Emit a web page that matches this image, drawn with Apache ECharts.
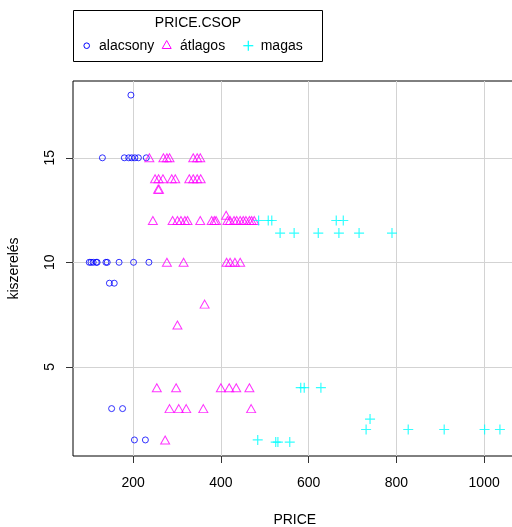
<!DOCTYPE html>
<html><head><meta charset="utf-8">
<script src="https://cdn.jsdelivr.net/npm/echarts@6/dist/echarts.min.js"></script>
<style>html,body{margin:0;padding:0;background:#fff}#c{width:512px;height:527px}</style>
</head><body><div id="c"></div>
<script>
// ---- data ----
const seriesNames = ['alacsony', 'átlagos', 'magas'];
const legendTitle = 'PRICE.CSOP';
const alacsonyX = [195, 130,180,190,197,204,212,230, 100,104,109,116,118,138,141,168,201,236, 146,157, 151,176, 203,228];
const alacsonyY = [18, 15,15,15,15,15,15,15, 10,10,10,10,10,10,10,10,10,10, 9,9, 3,3, 1.5,1.5];
const atlagosX = [237,269,277,283,337,346,353, 250,258,268,288,296,328,337,346,354, 257,259,
  245,290,301,309,318,324,353,379,385,389,415,421,430,436,444,451,457,465,470,476, 412,
  277,315,413,421,432,444, 363, 301, 254,298,400,419,435,465, 283,304,321,360,469, 273];
const atlagosY = [15,15,15,15,15,15,15, 14,14,14,14,14,14,14,14,14, 13.5,13.5,
  12,12,12,12,12,12,12,12,12,12,12,12,12,12,12,12,12,12,12,12, 12.25,
  10,10,10,10,10,10, 8, 7, 4,4,4,4,4,4, 3,3,3,3,3, 1.5];
const magasX = [486,508,516,663,679, 535,567,622,669,715,790, 582,590,628, 740, 731,827,909,1001,1036, 484,525,530,557];
const magasY = [12,12,12,12,12, 11.4,11.4,11.4,11.4,11.4,11.4, 4,4,4, 2.5, 2,2,2,2,2, 1.5,1.4,1.4,1.4];
const xTicks = [200, 400, 600, 800, 1000];
const yTicks = [5, 10, 15];
const xName = 'PRICE';
const yName = 'kiszerelés';

const zip = (xs, ys) => xs.map((x, i) => [x, ys[i]]);
const FONT = 'Liberation Sans';
const BLUE = '#0000FF', MAG = '#FF00FF', CYAN = '#00FFFF';

const chart = echarts.init(document.getElementById('c'), null, {renderer: 'canvas'});
const axisCommon = {
  type: 'value',
  axisLine: {show: false},
  axisTick: {show: true, length: 7, lineStyle: {color: '#333', width: 1}},
  splitLine: {show: true, lineStyle: {color: '#D3D3D3', width: 1}},
  nameLocation: 'middle',
  nameTextStyle: {fontFamily: FONT, fontSize: 14, color: '#000'}
};
const option = {
  animation: false,
  backgroundColor: '#fff',
  grid: {left: 73, top: 81, width: 443.6, height: 375, outerBoundsMode: 'none', containLabel: false,
         show: true, borderColor: '#000', borderWidth: 1, backgroundColor: 'transparent'},
  xAxis: Object.assign({}, axisCommon, {
    min: 63, max: 1074,
    name: xName, nameGap: 57,
    axisTick: Object.assign({}, axisCommon.axisTick, {customValues: xTicks}),
    axisLabel: {customValues: xTicks, formatter: v => String(v), margin: 20, fontFamily: FONT, fontSize: 14, color: '#000'}
  }),
  yAxis: Object.assign({}, axisCommon, {
    min: 0.732, max: 18.675,
    name: yName, nameGap: 52,
    axisTick: Object.assign({}, axisCommon.axisTick, {customValues: yTicks}),
    axisLabel: {customValues: yTicks, formatter: v => String(v), rotate: 90, margin: 16, fontFamily: FONT, fontSize: 14, color: '#000'}
  }),
  series: [
    {name: seriesNames[0], type: 'scatter', data: zip(alacsonyX, alacsonyY), symbol: 'circle', symbolSize: 6,
     itemStyle: {color: 'rgba(0,0,0,0)', borderColor: BLUE, borderWidth: 1}, emphasis: {disabled: true}},
    {name: seriesNames[1], type: 'scatter', data: zip(atlagosX, atlagosY), symbol: 'triangle', symbolSize: [9, 8],
     itemStyle: {color: 'rgba(0,0,0,0)', borderColor: MAG, borderWidth: 1}, emphasis: {disabled: true}},
    {name: seriesNames[2], type: 'scatter', data: zip(magasX, magasY), symbol: 'path://M5,0L5,10M0,5L10,5', symbolSize: 10,
     itemStyle: {color: 'rgba(0,0,0,0)', borderColor: CYAN, borderWidth: 1.2}, emphasis: {disabled: true}}
  ],
  graphic: [
    {type: 'rect', shape: {x: 73.5, y: 10.5, width: 249, height: 51}, style: {fill: '#fff', stroke: '#000', lineWidth: 1}},
    {type: 'text', x: 198, y: 23, style: {text: legendTitle, fontFamily: FONT, fontSize: 14, fill: '#000', align: 'center', verticalAlign: 'middle'}},
    {type: 'circle', shape: {cx: 86.7, cy: 45.7, r: 2.8}, style: {fill: 'none', stroke: BLUE, lineWidth: 1}},
    {type: 'text', x: 99, y: 46, style: {text: seriesNames[0], fontFamily: FONT, fontSize: 14, fill: '#000', align: 'left', verticalAlign: 'middle'}},
    {type: 'polygon', shape: {points: [[162.2, 48.5], [171.2, 48.5], [166.7, 40.5]]}, style: {fill: 'none', stroke: MAG, lineWidth: 1}},
    {type: 'text', x: 180, y: 46, style: {text: seriesNames[1], fontFamily: FONT, fontSize: 14, fill: '#000', align: 'left', verticalAlign: 'middle'}},
    {type: 'line', shape: {x1: 248.3, y1: 40.7, x2: 248.3, y2: 50.7}, style: {stroke: CYAN, lineWidth: 1.2}},
    {type: 'line', shape: {x1: 243.3, y1: 45.7, x2: 253.3, y2: 45.7}, style: {stroke: CYAN, lineWidth: 1.2}},
    {type: 'text', x: 260.7, y: 46, style: {text: seriesNames[2], fontFamily: FONT, fontSize: 14, fill: '#000', align: 'left', verticalAlign: 'middle'}}
  ]
};
chart.setOption(option);
</script>
</body></html>
